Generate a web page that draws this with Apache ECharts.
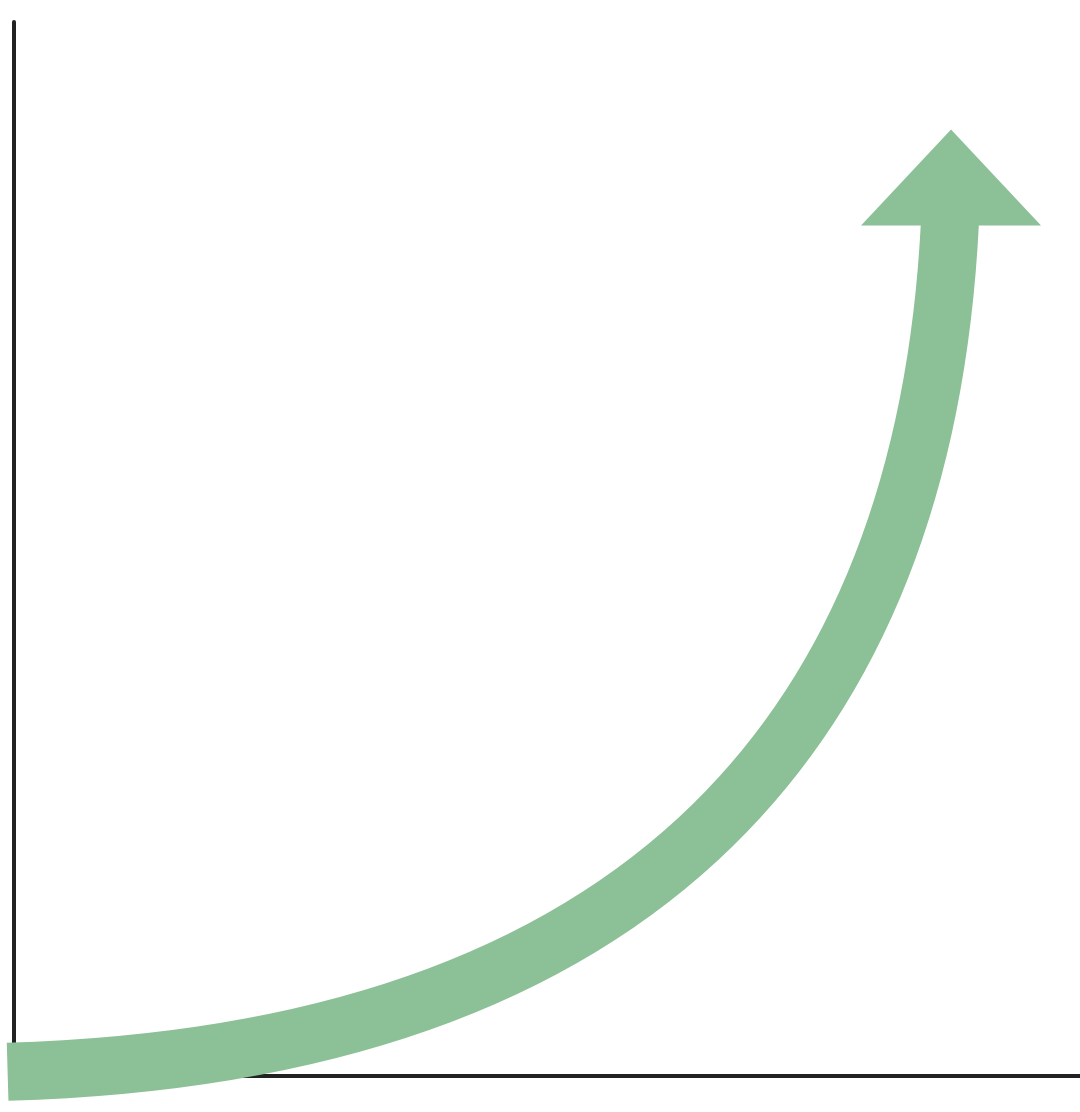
<!DOCTYPE html>
<html lang="en">

	<head>
		<meta charset="utf-8">
		<title>Growth curve</title>
		<script src="https://cdn.jsdelivr.net/npm/echarts@6/dist/echarts.min.js"></script>
		<style>
			html, body {
				margin: 0;
				padding: 0;
				background: #ffffff;
			}
			#chart {
				width: 1080px;
				height: 1112px;
			}
		</style>
	</head>

	<body>
		<div id="chart"></div>
	</body>
	<script type="text/javascript">
		// curve as start point, two control points and end point, axis units 0-100
		let curveX = [-0.6, 60.4, 85.5, 87.8];
		let curveY = [0.4, 2.2, 34.3, 81.0];
		// arrow head sits on the end of the curve
		let arrowX = [87.9];
		let arrowY = [80.7];

		initCurveChart('chart', curveX, curveY, arrowX, arrowY);

		function initCurveChart(id, xs, ys, ax, ay) {
			var myChart = echarts.init(document.getElementById(id));
			var green = '#8cc097';

			// one item holding the four points of the curve
			var curveItem = [];
			xs.forEach(function(x, i) {
				curveItem.push(x, ys[i]);
			});
			var arrowData = ax.map(function(x, i) {
				return [x, ay[i]];
			});

			var axisStyle = {
				type: 'value',
				min: 0,
				max: 100,
				axisLine: {
					show: true,
					lineStyle: {
						color: '#222222',
						width: 4
					}
				},
				axisTick: {
					show: false
				},
				axisLabel: {
					show: false
				},
				splitLine: {
					show: false
				}
			};

			var option = {
				animation: false,
				grid: {
					left: 14,
					right: 0,
					top: 22,
					bottom: 36
				},
				xAxis: axisStyle,
				yAxis: echarts.util.clone(axisStyle),
				series: [{
						type: 'custom',
						data: [curveItem],
						encode: {
							x: [0, 2, 4, 6],
							y: [1, 3, 5, 7]
						},
						renderItem: function(params, api) {
							var p0 = api.coord([api.value(0), api.value(1)]);
							var p1 = api.coord([api.value(2), api.value(3)]);
							var p2 = api.coord([api.value(4), api.value(5)]);
							var p3 = api.coord([api.value(6), api.value(7)]);
							return {
								type: 'bezierCurve',
								shape: {
									x1: p0[0],
									y1: p0[1],
									cpx1: p1[0],
									cpy1: p1[1],
									cpx2: p2[0],
									cpy2: p2[1],
									x2: p3[0],
									y2: p3[1]
								},
								style: {
									fill: null,
									stroke: green,
									lineWidth: 58,
									lineCap: 'butt'
								}
							};
						}
					},
					{
						type: 'scatter',
						data: arrowData,
						symbol: 'triangle',
						symbolSize: [180, 96],
						symbolOffset: [0, '-50%'],
						clip: false,
						itemStyle: {
							color: green,
							opacity: 1
						}
					}
				]
			};
			myChart.setOption(option);
		}
	</script>

</html>
